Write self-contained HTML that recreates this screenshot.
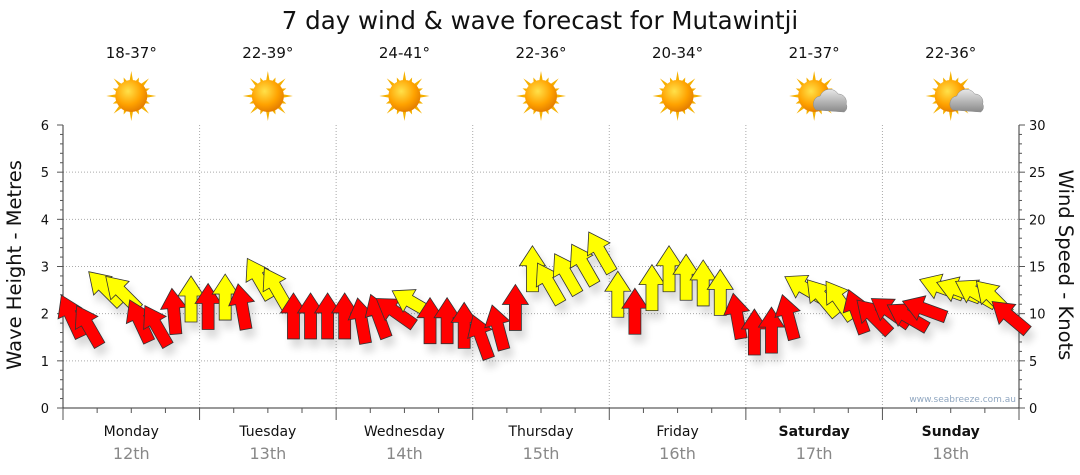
<!DOCTYPE html>
<html><head><meta charset="utf-8">
<style>
body{margin:0;background:#fff;font-family:"DejaVu Sans","Liberation Sans",sans-serif;}
svg{display:block}
</style></head>
<body>
<svg id="c" width="1080" height="475" xmlns="http://www.w3.org/2000/svg">
<defs>
<radialGradient id="sunG" cx="0.4" cy="0.35" r="0.7"><stop offset="0" stop-color="#ffe14a"/><stop offset="0.6" stop-color="#ffa200"/><stop offset="1" stop-color="#e07800"/></radialGradient>
<linearGradient id="cloudG" x1="0" y1="0" x2="0" y2="1"><stop offset="0" stop-color="#e8e8e8"/><stop offset="1" stop-color="#8a8a8a"/></linearGradient>
<filter id="sh" x="-50%" y="-50%" width="200%" height="200%"><feGaussianBlur in="SourceAlpha" stdDeviation="4"/><feOffset dx="4" dy="8"/><feComponentTransfer><feFuncA type="linear" slope="0.15"/></feComponentTransfer><feMerge><feMergeNode/><feMergeNode in="SourceGraphic"/></feMerge></filter>
</defs>
<text x="540" y="29" font-size="24.5" text-anchor="middle" fill="#111">7 day wind &amp; wave forecast for Mutawintji</text>
<g id="top"></g>
<g id="grid"></g>
<g id="axes"></g>
<text x="1016" y="402" font-size="9" text-anchor="end" fill="#8fa6c0">www.seabreeze.com.au</text>
<g id="arrows" filter="url(#sh)"></g>
<text transform="translate(21,265) rotate(-90)" font-size="19.5" text-anchor="middle" fill="#111">Wave Height - Metres</text>
<text transform="translate(1059,265) rotate(90)" font-size="19.5" text-anchor="middle" fill="#111">Wind Speed - Knots</text>
</svg>
<script>
const days=["Monday","Tuesday","Wednesday","Thursday","Friday","Saturday","Sunday"];
const dates=["12th","13th","14th","15th","16th","17th","18th"];
const temps=["18-37°","22-39°","24-41°","22-36°","20-34°","21-37°","22-36°"];
const cloudy=[false,false,false,false,false,true,true];
const waveTicks=[0,1,2,3,4,5,6];
const windTicks=[0,5,10,15,20,25,30];
const windSpeed=[10.5,9.5,13.5,13,10,9.5,11,12.3,
 11.5,12.5,11.5,14.5,13.5,10.5,10.5,10.5,
 10.5,10,10.5,11,12,10,10,9.5,
 8.3,9.3,11.4,15.5,14,15,16,17.3,
 12.8,11,13.5,15.5,14.6,14,13,10.5,
 8.8,9,10.4,13.5,12.5,12.2,11,10.5,
 11,10.5,11.3,13.6,13.3,13,12.5,10.5];
const windDir=[-25,-30,-45,-45,-25,-30,-5,0,
 0,0,-10,-30,-30,0,0,0,
 0,-10,-20,-55,-60,0,0,0,
 -20,-15,0,0,-30,-30,-30,-30,
 0,0,0,0,0,0,0,-10,
 0,0,-15,-60,-40,-35,-20,-45,
 -55,-60,-70,-70,-70,-60,-45,-50];
const NS="http://www.w3.org/2000/svg";
const X0=63,X1=1019,Y0=408,Y1=125,DW=(X1-X0)/7;
const yW=v=>Y0-(v/6)*(Y0-Y1);
const yK=v=>Y0-(v/30)*(Y0-Y1);
const xH=h=>X0+h/24*DW;
function mk(tag,at,par){const e=document.createElementNS(NS,tag);for(const k in at)e.setAttribute(k,at[k]);document.getElementById(par).appendChild(e);return e;}
waveTicks.forEach(v=>{if(v>0&&v<6){const l=mk('line',{x1:X0,x2:X1,y1:yW(v),y2:yW(v),stroke:'#aaa','stroke-dasharray':'1,2'},'grid');

}});
for(let d=1;d<7;d++){const l=mk('line',{x1:X0+d*DW,x2:X0+d*DW,y1:Y1,y2:Y0,stroke:'#aaa','stroke-dasharray':'1,2'},'grid');

}
mk('line',{x1:X0,x2:X0,y1:Y1,y2:Y0,stroke:'#333'},'axes');
mk('line',{x1:X1,x2:X1,y1:Y1,y2:Y0,stroke:'#333'},'axes');
mk('line',{x1:X0,x2:X1,y1:Y0,y2:Y0,stroke:'#333'},'axes');
for(let i=0;i<=30;i++){const y=yK(i);mk('line',{x1:X0-(i%5?3:6),x2:X0,y1:y,y2:y,stroke:'#555'},'axes');mk('line',{x1:X1,x2:X1+(i%5?3:6),y1:y,y2:y,stroke:'#555'},'axes');}
waveTicks.forEach(v=>{const t=mk('text',{x:49,y:yW(v)+5,'font-size':13,'text-anchor':'end',fill:'#111'},'axes');t.textContent=v;

});
windTicks.forEach(v=>{const t=mk('text',{x:1029,y:yK(v)+5,'font-size':13,fill:'#111'},'axes');t.textContent=v;

});
for(let h=0;h<=168;h+=6){const x=xH(h);mk('line',{x1:x,x2:x,y1:Y0,y2:Y0+(h%24?5:12),stroke:'#555'},'axes');}
days.forEach((d,i)=>{const cx=X0+(i+0.5)*DW;
const t=mk('text',{x:cx,y:436,'font-size':14,'text-anchor':'middle',fill:'#111','font-weight':i>=5?'bold':'normal'},'axes');t.textContent=d;


const t2=mk('text',{x:cx,y:459,'font-size':16,'text-anchor':'middle',fill:'#888'},'axes');t2.textContent=dates[i];


const t3=mk('text',{x:cx,y:58,'font-size':15,'text-anchor':'middle',fill:'#111'},'top');t3.textContent=temps[i];


const g=mk('g',{transform:`translate(${cx},96)`},'top');


for(let r=0;r<16;r++){const a=r*Math.PI/8;const p=mk('polygon',{points:`${Math.cos(a-0.12)*15},${Math.sin(a-0.12)*15} ${Math.cos(a)*(r%2?20:25)},${Math.sin(a)*(r%2?20:25)} ${Math.cos(a+0.12)*15},${Math.sin(a+0.12)*15}`,fill:'#f5b000'},'top');g.appendChild(p);}
const c=mk('circle',{r:16,fill:'url(#sunG)'},'top');g.appendChild(c);
if(cloudy[i]){const cl=mk('path',{d:'M2,14 a8,8 0 0 1 4,-14 a10,10 0 0 1 18,-2 a8,8 0 0 1 8,10 a6,6 0 0 1 -2,8 z',fill:'url(#cloudG)',stroke:'#888','stroke-width':0.5},'top');g.appendChild(cl);}
});
windSpeed.forEach((s,i)=>{const x=xH(i*3+1.5),y=yK(s)+8;
const p=mk('path',{d:'M0,-24 L13,-4 L6,-4 L6,22 L-6,22 L-6,-4 L-13,-4 Z',transform:`translate(${x},${y}) rotate(${windDir[i]})`,fill:s>=12?'#ffff00':'#ff0000',stroke:'#333','stroke-width':0.8,'stroke-linejoin':'miter'},'arrows');

});
</script>
</body></html>
